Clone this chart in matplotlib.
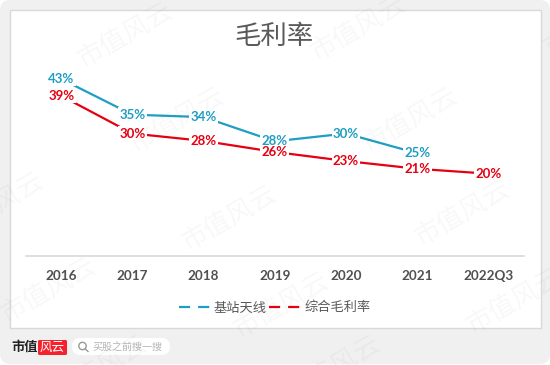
import matplotlib
matplotlib.use("Agg")
import matplotlib.pyplot as plt
from matplotlib.lines import Line2D
from matplotlib.patches import FancyBboxPatch, Rectangle, Circle

W, H = 550, 365
CJK = ['Noto Sans CJK SC', 'DejaVu Sans']
plt.rcParams['font.family'] = CJK

categories = ['2016', '2017', '2018', '2019', '2020', '2021', '2022Q3']
antenna = [43.1, 34.4, 33.8, 27.9, 29.8, 25.0]
antenna_labels = ['43%', '35%', '34%', '28%', '30%', '25%']
overall = [39.0, 29.8, 28.0, 25.3, 23.1, 21.2, 20.0]
overall_labels = ['39%', '30%', '28%', '26%', '23%', '21%', '20%']

BLUE = '#1F9EC3'
RED = '#E60012'
GRAY = '#595959'
NUM_FONT = ['Lato', 'DejaVu Sans']

fig = plt.figure(figsize=(W / 100, H / 100), dpi=100, facecolor='white')

# page frame, in pixel coordinates
bg = fig.add_axes([0, 0, 1, 1], zorder=0)
bg.set_xlim(0, W); bg.set_ylim(H, 0); bg.axis('off')
bg.add_patch(FancyBboxPatch((0, 0), W, H - 1, boxstyle='round,pad=0,rounding_size=10',
                            fc='#F0F0F0', ec='none', mutation_aspect=1))
bg.add_patch(Rectangle((9.5, 9.5), 531, 318, fc='white', ec='#D9D9D9', lw=1.0))

# chart
left, right, base, top = 25.6, 524, 255.7, 50.7
ax = fig.add_axes([left / W, 1 - base / H, (right - left) / W, (base - top) / H], zorder=1)
ax.patch.set_alpha(0)
ax.set_xlim(-0.5, 6.5)
ax.set_ylim(0, 50)
x_all = list(range(len(categories)))
ax.plot(x_all[:len(antenna)], antenna, color=BLUE, lw=1.6, solid_capstyle='round', zorder=2)
ax.plot(x_all, overall, color=RED, lw=1.6, solid_capstyle='round', zorder=3)
box = dict(boxstyle='square,pad=0.1', fc='white', ec='none')
for xi, v, s in zip(x_all, antenna, antenna_labels):
    ax.text(xi, v, s, color=BLUE, fontsize=9.5, fontweight='bold', family=NUM_FONT,
            ha='center', va='center', bbox=box, zorder=4)
for xi, v, s in zip(x_all, overall, overall_labels):
    ax.text(xi, v, s, color=RED, fontsize=9.5, fontweight='bold', family=NUM_FONT,
            ha='center', va='center', bbox=box, zorder=5)
for s in ['top', 'left', 'right']:
    ax.spines[s].set_visible(False)
ax.spines['bottom'].set_color('#D9D9D9')
ax.spines['bottom'].set_linewidth(1.2)
ax.set_yticks([])
ax.set_xticks(x_all)
ax.set_xticklabels(categories, fontsize=9.7, fontweight='bold', color='#505050', family=NUM_FONT)
ax.tick_params(axis='x', length=0, pad=10.5)

handles = [
    Line2D([0], [0], color=BLUE, lw=1.6, dashes=(5.0, 3.6), dash_capstyle='butt'),
    Line2D([0], [0], color=RED, lw=1.6, dashes=(5.0, 3.6), dash_capstyle='butt'),
]
leg = ax.legend(handles, ['基站天线', '综合毛利率'], ncol=2, frameon=False, fontsize=9.5,
                loc='center', bbox_to_anchor=((274.5 - left) / (right - left), -(308 - base) / (base - top)),
                handlelength=2.35, handletextpad=0.3, columnspacing=0.2, borderpad=0, labelcolor=GRAY)

# title, logo, watermark overlay
fg = fig.add_axes([0, 0, 1, 1], zorder=2)
fg.set_xlim(0, W); fg.set_ylim(H, 0); fg.axis('off'); fg.patch.set_alpha(0)
fg.text(273.5, 36, '毛利率', fontsize=19, color=GRAY, ha='center', va='center')

fg.text(11, 347, '市值', fontsize=9.5, fontweight='bold', color='#222222', ha='left', va='center')
fg.add_patch(FancyBboxPatch((38, 340), 29, 15, boxstyle='round,pad=0,rounding_size=1.5',
                            fc='#F5222D', ec='none'))
fg.text(52.5, 347.5, '风云', fontsize=9, color='white', ha='center', va='center')
fg.add_patch(FancyBboxPatch((72, 338), 98, 17, boxstyle='round,pad=0,rounding_size=8.5',
                            fc='white', ec='none'))
fg.add_patch(Circle((82.5, 346), 3.7, fc='none', ec='#999999', lw=1.0))
fg.add_line(Line2D([85.2, 88], [348.8, 351.5], color='#999999', lw=1.0))
fg.text(92.5, 346.8, '买股之前搜一搜', fontsize=7.2, color='#B5B5B5', ha='left', va='center')

marks = [(80, 62), (313, 55), (546, 50), (132, 147), (365, 147), (-49, 232), (184, 245),
         (417, 240), (3, 317), (236, 332), (469, 328), (55, 395), (288, 395)]
for mx, my in marks:
    fg.text(mx, my, '市值风云', fontsize=19, color='black', alpha=0.03, rotation=30,
            rotation_mode='anchor', ha='left', va='center')

fig.savefig('out.png', dpi=100, facecolor='white')
